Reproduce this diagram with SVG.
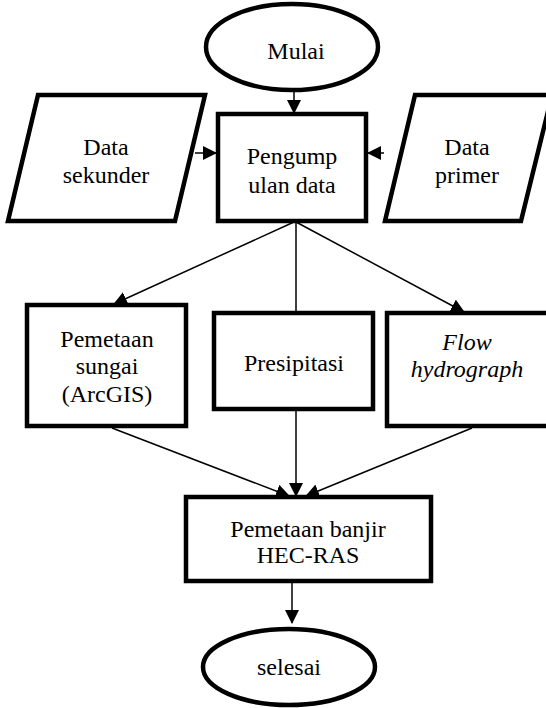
<svg xmlns="http://www.w3.org/2000/svg" width="546" height="708" viewBox="0 0 546 708">
<defs>
<marker id="ah" markerUnits="userSpaceOnUse" markerWidth="14" markerHeight="14" viewBox="0 0 14 14" refX="13" refY="7" orient="auto">
<path d="M0,0 L14,7 L0,14 Z" fill="#000"/>
</marker>
</defs>
<style>
.s{fill:#fff;stroke:#000;stroke-width:4.5;stroke-linejoin:miter}
.t{font-family:"Liberation Serif","Times New Roman",serif;font-size:24px;fill:#000;text-anchor:middle}
.i{font-style:italic}
.c{fill:none;stroke:#000;stroke-width:1.5}
</style>
<rect width="546" height="708" fill="#fff"/>
<g id="connectors">
<line class="c" x1="294" y1="90" x2="294" y2="113" marker-end="url(#ah)"/>
<line class="c" x1="195" y1="153" x2="216" y2="153" marker-end="url(#ah)"/>
<line class="c" x1="384" y1="153" x2="368" y2="153" marker-end="url(#ah)"/>
<line class="c" x1="294" y1="222" x2="114" y2="304" marker-end="url(#ah)"/>
<line class="c" x1="296" y1="222" x2="296" y2="312"/>
<line class="c" x1="296" y1="222" x2="464" y2="312" marker-end="url(#ah)"/>
<line class="c" x1="112" y1="428" x2="289" y2="496" marker-end="url(#ah)"/>
<line class="c" x1="296" y1="410" x2="296" y2="496" marker-end="url(#ah)"/>
<line class="c" x1="472" y1="428" x2="306" y2="496" marker-end="url(#ah)"/>
<line class="c" x1="292" y1="582" x2="292" y2="623" marker-end="url(#ah)"/>
</g>
<g id="mulai">
<ellipse class="s" cx="292" cy="47" rx="86" ry="43"/>
<text class="t" x="296" y="59">Mulai</text>
</g>
<g id="data-sekunder">
<polygon class="s" points="38,95 205,95 175,221 8,221"/>
<text class="t" x="106" y="155">Data</text>
<text class="t" x="106" y="183">sekunder</text>
</g>
<g id="pengumpulan">
<rect class="s" x="218" y="114" width="148" height="107"/>
<text class="t" x="292" y="164">Pengump</text>
<text class="t" x="292" y="193">ulan data</text>
</g>
<g id="data-primer">
<polygon class="s" points="415,95 552,95 521,221 385,221"/>
<text class="t" x="467" y="155">Data</text>
<text class="t" x="467" y="183">primer</text>
</g>
<g id="pemetaan-sungai">
<rect class="s" x="27" y="305" width="159" height="121"/>
<text class="t" x="107" y="347">Pemetaan</text>
<text class="t" x="107" y="374">sungai</text>
<text class="t" x="107" y="402">(ArcGIS)</text>
</g>
<g id="presipitasi">
<rect class="s" x="214" y="313" width="159" height="96"/>
<text class="t" x="294" y="371">Presipitasi</text>
</g>
<g id="flow-hydrograph">
<rect class="s" x="387" y="313" width="175" height="113"/>
<text class="t i" x="467" y="350">Flow</text>
<text class="t i" x="467" y="377">hydrograph</text>
</g>
<g id="hec-ras">
<rect class="s" x="186" y="497" width="245" height="84"/>
<text class="t" x="308" y="537">Pemetaan banjir</text>
<text class="t" x="308" y="563">HEC-RAS</text>
</g>
<g id="selesai">
<ellipse class="s" cx="289" cy="667" rx="86" ry="38"/>
<text class="t" x="289" y="675">selesai</text>
</g>
</svg>
